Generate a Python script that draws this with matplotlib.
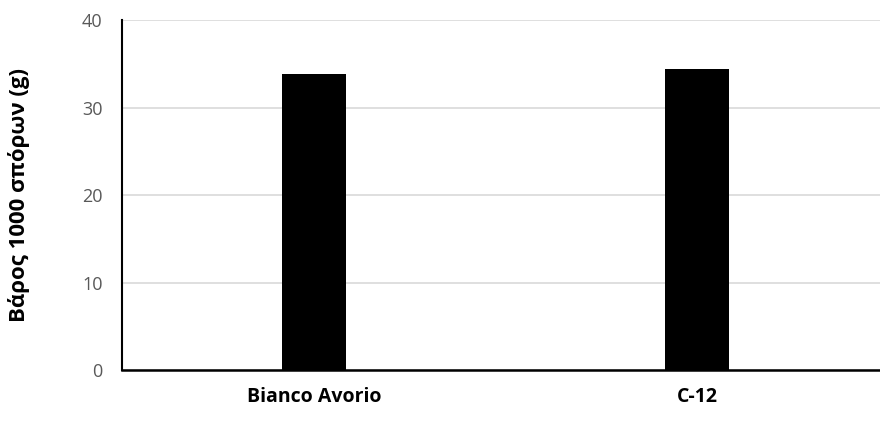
import matplotlib
matplotlib.use('Agg')
import matplotlib.pyplot as plt

# seed weight per variety
varieties = ['Bianco Avorio', 'C-12']
weights = [33.8, 34.4]
y_ticks = [0, 10, 20, 30, 40]

plt.rcParams['font.family'] = ['Open Sans', 'DejaVu Sans']

fig = plt.figure(figsize=(8.8, 4.23), dpi=100)
ax = fig.add_axes([122 / 880, 1 - 370 / 423, 1 - 122 / 880, 350 / 423])

x = list(range(len(varieties)))
ax.bar(x, weights, width=0.167, color='black', zorder=3)

ax.set_ylim(0, 40)
ax.set_xlim(-0.5, 1.476)
ax.set_yticks(y_ticks)
ax.set_yticklabels([str(t) for t in y_ticks], color='#595959', fontsize=13)
ax.set_xticks(x)
ax.set_xticklabels(varieties, fontsize=14, fontweight='bold')
ax.tick_params(axis='x', length=0, pad=12)
ax.tick_params(axis='y', length=0, pad=14)

ax.yaxis.grid(True, color='#d9d9d9', linewidth=1.2, zorder=0)
ax.set_axisbelow(True)

for side in ['top', 'right']:
    ax.spines[side].set_visible(False)
ax.spines['left'].set_linewidth(1.5)
ax.spines['bottom'].set_linewidth(1.8)

ax.set_ylabel('Βάρος 1000 σπόρων (g)', fontsize=16, fontweight='bold')
ax.yaxis.set_label_coords(-(122 - 30) / 758, 0.5)

fig.savefig('out.png', dpi=100)
